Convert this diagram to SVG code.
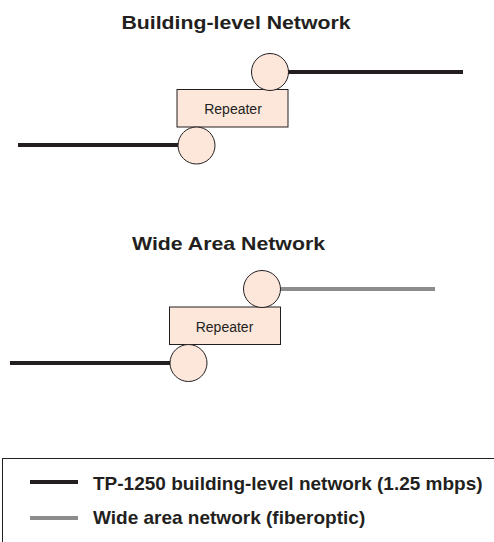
<svg xmlns="http://www.w3.org/2000/svg" width="494" height="542" viewBox="0 0 494 542">
<style>
text{font-family:"Liberation Sans",Arial,sans-serif;fill:#231f20}
.title{font-size:19px;font-weight:bold;text-anchor:middle}
.lbl{font-size:14px;text-anchor:middle}
.leg{font-size:19px;font-weight:bold}
.node{fill:#fde7db;stroke:#231f20;stroke-width:1}
.tp{stroke:#231f20;stroke-width:4;fill:none}
.wan{stroke:#8c8c8c;stroke-width:4;fill:none}
</style>
<rect width="494" height="542" fill="#fff"/>
<text class="title" x="236" y="28.5" textLength="229" lengthAdjust="spacingAndGlyphs">Building-level Network</text>
<text class="title" x="228.5" y="249.5" textLength="193" lengthAdjust="spacingAndGlyphs">Wide Area Network</text>
<g id="connectors">
<line class="tp" x1="288" y1="72" x2="463" y2="72"/>
<line class="tp" x1="18" y1="145" x2="179" y2="145"/>
<line class="wan" x1="281" y1="289" x2="435" y2="289"/>
<line class="tp" x1="10" y1="363" x2="170" y2="363"/>
</g>
<g id="repeater1">
<rect class="node" x="177" y="89.5" width="111" height="37.5"/>
<text class="lbl" x="233" y="113.5">Repeater</text>
</g>
<g id="port1a"><circle class="node" cx="270" cy="72" r="18.5"/></g>
<g id="port1b"><circle class="node" cx="196.5" cy="145.5" r="18.5"/></g>
<g id="repeater2">
<rect class="node" x="169.5" y="307" width="111" height="37.5"/>
<text class="lbl" x="224.5" y="331.5">Repeater</text>
</g>
<g id="port2a"><circle class="node" cx="262" cy="289" r="18.5"/></g>
<g id="port2b"><circle class="node" cx="188.5" cy="363" r="18.5"/></g>
<g id="legend">
<rect x="2.5" y="458.5" width="500" height="100" fill="none" stroke="#231f20" stroke-width="1"/>
<line class="tp" x1="30" y1="482" x2="78" y2="482"/>
<text class="leg" x="93" y="490">TP-1250 building-level network (1.25 mbps)</text>
<line class="wan" x1="30" y1="518" x2="78" y2="518"/>
<text class="leg" x="93" y="524">Wide area network (fiberoptic)</text>
</g>
</svg>
